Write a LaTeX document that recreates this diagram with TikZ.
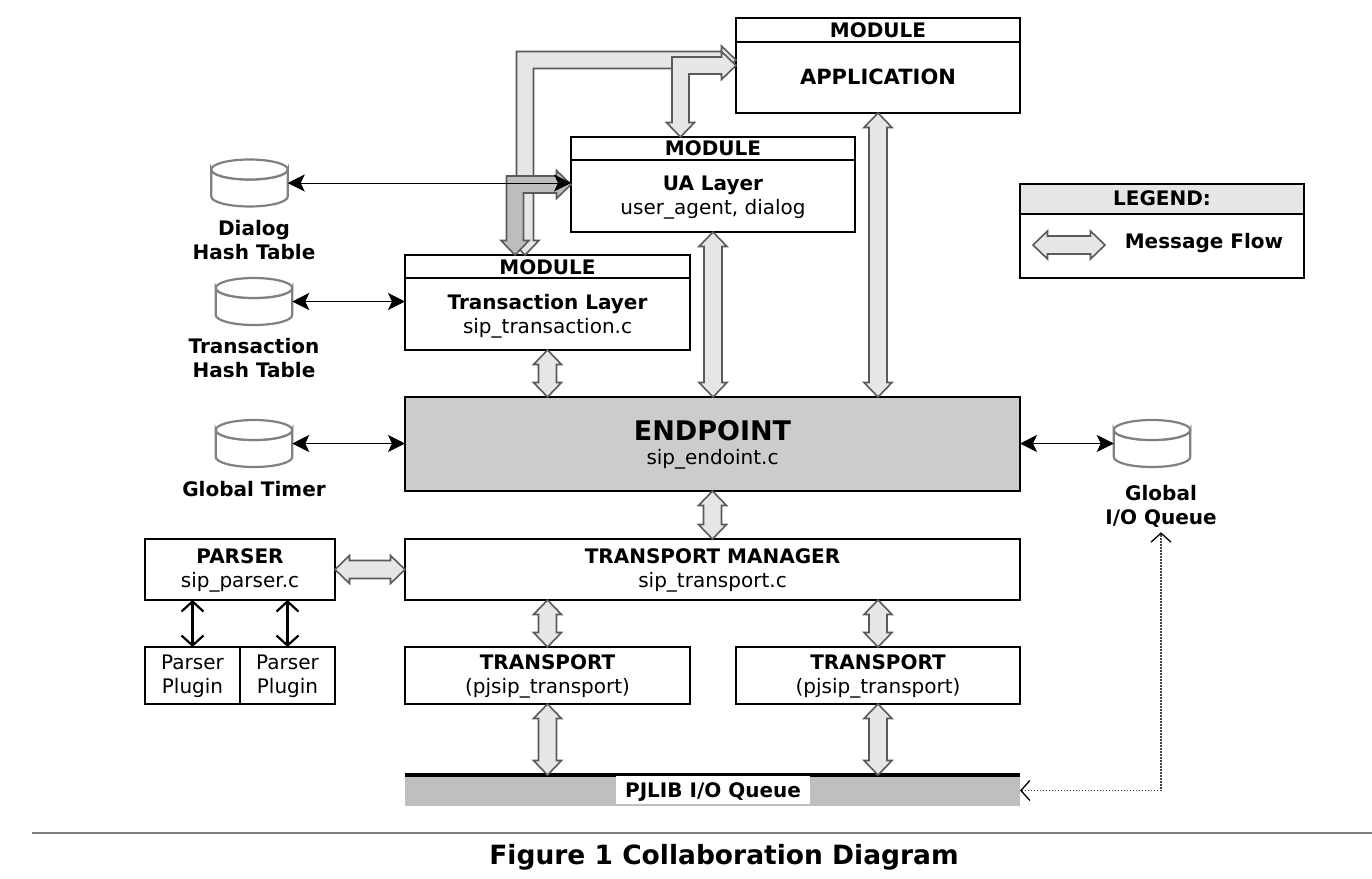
\documentclass[tikz,border=0pt]{standalone}
\usepackage{fontspec}
\setmainfont{DejaVu Sans}
\usetikzlibrary{arrows.meta,calc}
\definecolor{flowfill}{HTML}{E6E6E6}
\definecolor{flowdark}{HTML}{BDBDBD}
\definecolor{flowline}{HTML}{5A5A5A}
\definecolor{epfill}{HTML}{CCCCCC}
\definecolor{pjfill}{HTML}{BFBFBF}
\newcommand{\vflow}[2]{%
  \filldraw[flow] (#1) -- ++(14,14.5) -- ++(-5,0)
    -- ($(#2)+(9,-14.5)$) -- ++(5,0) -- (#2) -- ++(-14,-14.5) -- ++(5,0)
    -- ($(#1)+(-9,14.5)$) -- ++(-5,0) -- cycle;}
\newcommand{\hflow}[2]{%
  \filldraw[flow] (#1) -- ++(14.5,-14) -- ++(0,5)
    -- ($(#2)+(-14.5,-9)$) -- ++(0,-5) -- (#2) -- ++(-14.5,14) -- ++(0,-5)
    -- ($(#1)+(14.5,9)$) -- ++(0,5) -- cycle;}
\newcommand{\bentflow}[3]{%
  \filldraw[flow,fill=#3] (#2) -- ++(-14.5,-14) -- ++(0,5.5)
    -- ($(#1|-#2)+(-8.5,-8.5)$) -- ($(#1)+(-8.5,-14.5)$) -- ++(-5.5,0) -- (#1)
    -- ++(14,-14.5) -- ++(-5.5,0) -- ($(#1|-#2)+(8.5,8.5)$)
    -- ($(#2)+(-14.5,8.5)$) -- ++(0,5.5) -- cycle;}
\newcommand{\dbshape}[3]{%
  \node[dbanchor] (#1) at (#2,#3) {};
  \filldraw[dbline] ($(#1.west)+(0,-13.5)$) -- ($(#1.west)+(0,13.5)$)
    arc[start angle=180,end angle=0,x radius=38.25,y radius=10]
    -- ($(#1.east)+(0,-13.5)$)
    arc[start angle=0,end angle=180,x radius=38.25,y radius=10] -- cycle;
  \draw[dbline] ($(#1.west)+(0,-13.5)$)
    arc[start angle=180,end angle=540,x radius=38.25,y radius=10];}
\tikzset{
  box/.style={draw=black,line width=2.8pt,fill=white,inner sep=0pt,outer sep=0pt},
  headline/.style={draw=black,line width=2.8pt},
  flow/.style={draw=flowline,line width=1.6pt,fill=flowfill,line join=miter},
  dbanchor/.style={minimum width=76.5pt,minimum height=47pt,inner sep=0pt,outer sep=0pt},
  dbline/.style={draw=gray,line width=2.2pt,fill=white},
  thin arrow/.style={draw=black,line width=1pt,{Stealth[length=17pt,width=17pt,inset=4pt]}-{Stealth[length=17pt,width=17pt,inset=4pt]}},
  barb arrow/.style={draw=black,line width=2.2pt,{Straight Barb[length=10pt,width=22pt]}-{Straight Barb[length=10pt,width=22pt]}},
  bt/.style={font=\fontsize{20}{24}\selectfont\bfseries,align=center,inner sep=0pt},
  nt/.style={font=\fontsize{20}{24}\selectfont,align=center,inner sep=0pt},
}
\begin{document}
\begin{tikzpicture}[x=1pt,y=-1pt]
\useasboundingbox (0,0) rectangle (1372,878);
% boxes
\node[box,minimum width=284pt,minimum height=95pt] (app) at (878,65.5) {};
\node[box,minimum width=284pt,minimum height=95pt] (ua) at (713,184.5) {};
\node[box,minimum width=285pt,minimum height=95pt] (tl) at (547.5,302.5) {};
\node[box,fill=epfill,minimum width=615pt,minimum height=94pt] (ep) at (712.5,444) {};
\node[box,minimum width=615pt,minimum height=61pt] (tm) at (712.5,569.5) {};
\node[box,minimum width=190pt,minimum height=61pt] (parser) at (240,569.5) {};
\node[box,minimum width=95pt,minimum height=57pt] (pp1) at (192.5,675.5) {};
\node[box,minimum width=95pt,minimum height=57pt] (pp2) at (287.5,675.5) {};
\node[box,minimum width=285pt,minimum height=57pt] (t1) at (547.5,675.5) {};
\node[box,minimum width=284pt,minimum height=57pt] (t2) at (878,675.5) {};
\node[fill=pjfill,minimum width=615pt,minimum height=31pt,inner sep=0pt,outer sep=0pt] (pj) at (712.5,790.5) {};
\draw[black,line width=4.5pt] (pj.north west) -- (pj.north east);
\node[box,minimum width=284pt,minimum height=94pt] (leg) at (1162,231) {};
\node[box,fill=flowfill,minimum width=284pt,minimum height=30pt] (legh) at (1162,199) {};
% header rules
\draw[headline] ($(app.north west)+(0,24)$) -- ($(app.north east)+(0,24)$);
\draw[headline] ($(ua.north west)+(0,23)$) -- ($(ua.north east)+(0,23)$);
\draw[headline] ($(tl.north west)+(0,23)$) -- ($(tl.north east)+(0,23)$);
% cylinders
\dbshape{dh}{249.5}{183}
\dbshape{th}{254}{301.5}
\dbshape{gt}{254}{443.5}
\dbshape{io}{1152}{443.5}
% routed flows
\coordinate (ltip) at ([xshift=-22.5pt]tl.north);
\coordinate (dtip) at ([xshift=-32.5pt]tl.north);
\coordinate (atip) at ([yshift=5.5pt]app.west);
\coordinate (utip) at ([xshift=-32.5pt]ua.north);
\bentflow{ltip}{atip}{flowfill}
\bentflow{utip}{app.west}{flowfill}
\bentflow{dtip}{ua.west}{flowdark}
% straight flows
\vflow{app.south}{app.south |- ep.north}
\vflow{ua.south}{ua.south |- ep.north}
\vflow{tl.south}{tl.south |- ep.north}
\vflow{ep.south}{tm.north}
\vflow{t1.north |- tm.south}{t1.north}
\vflow{t2.north |- tm.south}{t2.north}
\vflow{t1.south}{t1.south |- pj.north}
\vflow{t2.south}{t2.south |- pj.north}
\hflow{parser.east}{tm.west}
% thin arrows
\draw[thin arrow] (dh.east) -- (dh.east -| ua.west);
\draw[thin arrow] (th.east) -- (th.east -| tl.west);
\draw[thin arrow] (gt.east) -- (gt.east -| ep.west);
\draw[thin arrow] (ep.east |- io.west) -- (io.west);
\draw[barb arrow] (pp1.north |- parser.south) -- (pp1.north);
\draw[barb arrow] (pp2.north |- parser.south) -- (pp2.north);
% texts
\node[bt] (appt) at (878,30) {MODULE};
\node[bt,font=\fontsize{21}{24}\selectfont\bfseries] (appb) at (878,77) {APPLICATION};
\node[bt] (uat) at (713,148.5) {MODULE};
\node[bt] (uab) at (713,185) {UA Layer};
\node[nt] (uac) at (713,209) {user\_agent, dialog};
\node[bt] (tlt) at (547.5,267) {MODULE};
\node[bt] (tlb) at (547.5,304) {Transaction Layer};
\node[nt] (tlc) at (547.5,328) {sip\_transaction.c};
\node[font=\fontsize{27}{32}\selectfont\bfseries,inner sep=0pt] (ept) at (712.5,431) {ENDPOINT};
\node[nt] (epc) at (712.5,459) {sip\_endoint.c};
\node[bt] (tmt) at (712.5,556) {TRANSPORT MANAGER};
\node[nt] (tmc) at (712.5,582) {sip\_transport.c};
\node[bt] (pat) at (240,556) {PARSER};
\node[nt] (pac) at (240,582) {sip\_parser.c};
\node[nt] (pp1t) at (192.5,676) {Parser\\Plugin};
\node[nt] (pp2t) at (287.5,676) {Parser\\Plugin};
\node[bt] (t1t) at (547.5,662) {TRANSPORT};
\node[nt] (t1c) at (547.5,688) {(pjsip\_transport)};
\node[bt] (t2t) at (878,662) {TRANSPORT};
\node[nt] (t2c) at (878,688) {(pjsip\_transport)};
\node[fill=white,minimum width=194pt,minimum height=28pt,inner sep=0pt] (pjbg) at (713,790) {};
\node[bt] (pjt) at (713,792) {PJLIB I/O Queue};
\node[bt] (legt) at (1162,198) {LEGEND:};
\node[bt] (legm) at (1204,243) {Message Flow};
\coordinate (lega) at (1033,245);
\coordinate (legb) at (1105,245);
\hflow{lega}{legb}
\node[bt] (dhl) at (254,240) {Dialog\\Hash Table};
\node[bt] (thl) at (254,358) {Transaction\\Hash Table};
\node[bt] (gtl) at (254,489.5) {Global Timer};
\node[bt] (iol) at (1161,506) {Global\\I/O Queue};
% dotted link
\coordinate (iotip) at ([yshift=-5pt]iol.south);
\draw[draw=black!75,line width=1.3pt,dash pattern=on 1.6pt off 1.4pt,{Straight Barb[length=9pt,width=20pt,black]}-{Straight Barb[length=9pt,width=20pt,black]}] (pj.east) -- (pj.east -| iotip) -- (iotip);
% footer
\coordinate (rulea) at (32,833);
\coordinate (ruleb) at (1372,833);
\draw[gray,line width=1.2pt] (rulea) -- (ruleb);
\node[font=\fontsize{26.5}{32}\selectfont\bfseries,inner sep=0pt] (cap) at (724,857) {Figure 1 Collaboration Diagram};
\end{tikzpicture}
\end{document}
